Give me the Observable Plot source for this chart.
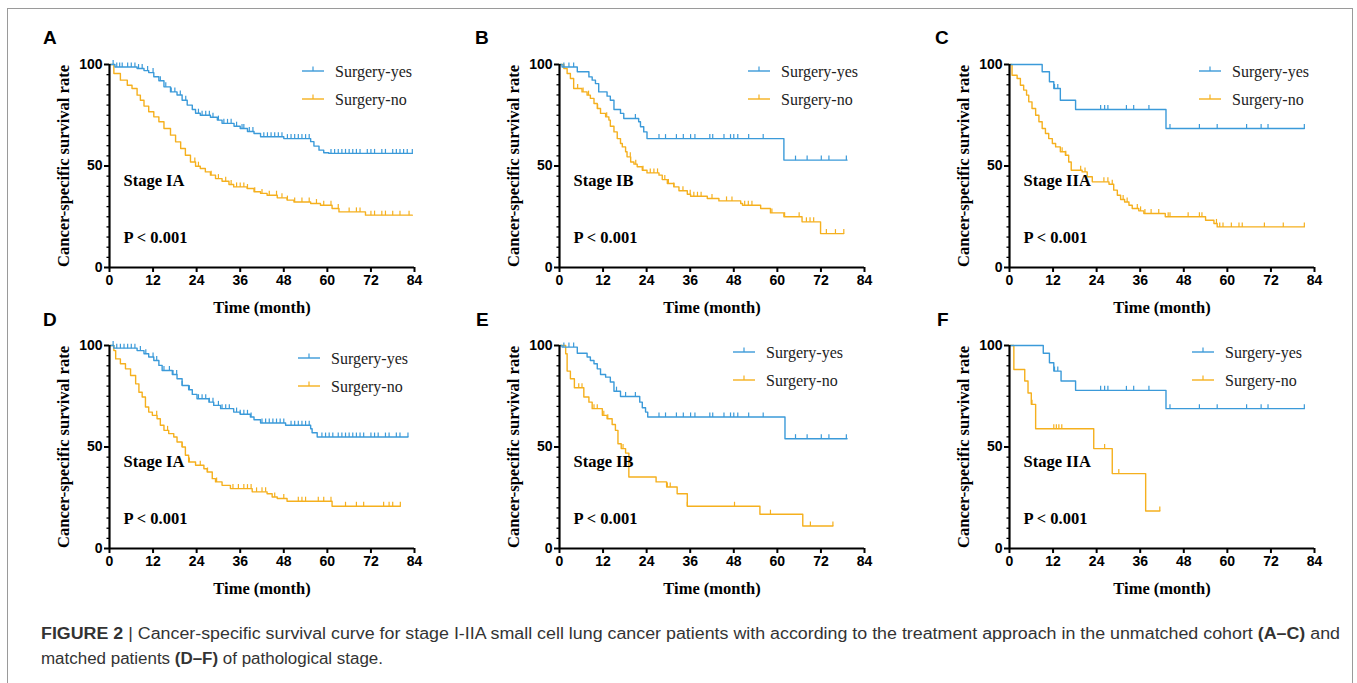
<!DOCTYPE html>
<html>
<head>
<meta charset="utf-8">
<script src="https://cdn.jsdelivr.net/npm/d3@7"></script>
<script src="https://cdn.jsdelivr.net/npm/@observablehq/plot@0.6"></script>
<style>
  html, body { margin: 0; padding: 0; background: #fff; }
  #root { position: relative; width: 1357px; height: 683px; overflow: hidden; }
  .panel { position: absolute; }
  #overlay { position: absolute; left: 0; top: 0; }
</style>
</head>
<body>
<div id="root"></div>
<script>
// ---------- tick labels ----------
const xTicks = [0, 12, 24, 36, 48, 60, 72, 84];
const yMajor = [0, 50, 100];
const yMinor = [5, 10, 15, 20, 25, 30, 35, 40, 45, 55, 60, 65, 70, 75, 80, 85, 90, 95];
const seriesNames = ["Surgery-yes", "Surgery-no"];
const panelLetters = ["A", "B", "C", "D", "E", "F"];
const stageLabels = ["Stage IA", "Stage IB", "Stage IIA", "Stage IA", "Stage IB", "Stage IIA"];
const pLabel = "P < 0.001";

// ---------- survival steps [month, survival %] and censor times ----------
const aYes = [[0,100],[1.5,98.8],[7.6,98],[9.5,97],[10.8,96],[12.2,94],[13.6,92],[15,89],[16.8,86.5],[18.6,85],[20,82.4],[21.4,80],[22.8,77.8],[23.7,76],[25,75],[27.8,74],[29.7,72.6],[31,71],[34.3,69.6],[36,68.5],[38,67],[39.8,66],[41.6,64.4],[48,63.5],[55.4,62],[56.3,59.8],[57.7,57.8],[59,56.5],[60.4,56.2],[83.4,56.2]];
const aYesC = [1,2,2.8,3.5,5,6,7,8,9,10.5,12,14,15.5,17,18,19.5,21,24.5,25.5,26.5,27.5,28.5,30,31.5,32.5,33.5,35,36.5,37,38.5,39.5,42.5,43.5,44.5,45.5,46.5,47.5,49,50,51,52,53,54,55,61,62,63,64,65,66,67,68,69,71,72,73,75,76,78,79,80,81,82,83.4];
const aNo = [[0,100],[1.2,95.6],[3,92.3],[4.9,89.8],[6.2,88.2],[7.6,84.9],[8.5,82.4],[9.5,79.5],[10.8,76.7],[12.2,74.2],[13.6,71.8],[15,68.5],[16.8,65.2],[18.2,61.9],[19.6,58.6],[20.9,55.3],[22.3,52],[23.7,49.9],[25,48.8],[26.4,47.1],[27.8,45.5],[29.2,43.8],[31,42.5],[32.9,40.9],[34.2,39.7],[37.9,38.9],[39.8,37.3],[41.6,36.5],[43.4,35.6],[46.2,34.3],[48.9,33.2],[50.8,32.3],[55.4,31.5],[58.1,30.7],[61.3,29.1],[63.2,27.4],[70.5,25.8],[83.4,25.8]];
const aNoC = [23.5,24.5,28,30,32,33.5,35,36,37,38,40,42,44,46,47.5,49,51,53,55,57,59,61,63,66,68,69,72,73,75,76,78,80,82.5];

const bYes = [[0,100],[0.7,98.8],[4.9,96.4],[8.1,93.9],[9,92.3],[9.9,90.6],[10.8,86.5],[13.1,84.4],[14,82.4],[15,77.8],[16.8,75.9],[17.7,73.4],[21.8,71.8],[22.3,69.3],[23.2,66.8],[24.1,63.5],[61.8,52.9],[79.2,52.9]];
const bYesC = [1.2,2.6,3.9,20.9,27.4,29.2,32.2,34.1,36.1,37.3,41.4,42.2,45.3,47.1,48,49.1,52.1,56.1,65,68.2,72.1,74.2,79];
const bNo = [[0,100],[1.2,98],[2.1,95.6],[3,93.1],[3.9,88.2],[6.2,86.5],[7.6,84.9],[8.5,83.3],[9.5,80.8],[10.4,78.3],[11.3,75.9],[12.7,74.2],[13.6,72.6],[14,69.6],[15,66.8],[15.9,63.5],[16.8,61.1],[17.3,59.4],[18.2,57],[18.6,54.5],[19.6,52],[20.5,50.9],[21.4,49.6],[22.8,47.9],[24.1,46.6],[27.4,45.5],[28.3,43.3],[29.7,41.4],[31.5,39.7],[32.9,37.8],[35.2,36.1],[36.1,35.1],[40.7,34],[43.9,32.8],[49.9,31.5],[50.4,30.7],[55.4,29.1],[58.1,26.9],[61.8,25],[66.8,22.5],[71.9,16.7],[78.3,16.7]];
const bNoC = [5,6.5,8,10.5,13,19.5,21,23,25,26,27,29,30,31.5,34,36,37,38,39,42,46,47.5,51,52,53,58.5,62,66,68,69,70,73.5,76,78.3];

const cYes = [[0,100],[9,96.4],[11,91.5],[12.2,88.2],[14,82.4],[18.2,77.8],[43.1,68.5],[81.2,68.5]];
const cYesC = [12.4,13.3,25.1,26.2,27.1,32.2,34.2,38.4,44.2,52.3,57.2,65.3,69.3,71.2,81.2];
const cNo = [[0,100],[0.7,94.7],[2.1,93.1],[3,89.8],[3.9,87.4],[4.7,84.9],[5.3,81.6],[6.2,78.3],[7.2,75],[8.1,71.8],[9,68.5],[9.9,66],[10.8,63.5],[11.8,61.1],[12.7,59.4],[14,57],[15.4,55.3],[16.3,52],[17,47.9],[20,47.1],[21.4,44.7],[22.8,42.2],[27.4,41],[28.7,38.1],[29.7,35.6],[30.6,33.5],[31.7,32.3],[32.9,30.7],[33.8,29.1],[35.6,27.9],[37,26.6],[42.9,25],[54,23.3],[56.3,21.7],[57.2,20],[81.2,20]];
const cNoC = [14.5,15.5,19.6,20.8,26,27.1,28.3,31.3,32.4,35.2,36.1,37.3,39,41.1,43.7,44.2,49.2,52.3,53,57,57.9,58.8,61.1,63.2,64.1,70.2,75.4,81.2];

const dYes = [[0,100],[1.2,98.7],[7.6,97.5],[9.5,95.9],[10.8,94.3],[12.2,92.6],[13.6,90.2],[14.5,87.7],[17.3,85.7],[18.6,83.6],[20,80.3],[21.8,78.2],[22.8,75.9],[24.1,73.8],[27.4,72.1],[28.7,70.5],[30.6,68.9],[34.2,67.2],[36,66.1],[38.8,64.8],[39.8,63.4],[41.6,61.8],[48.5,60.7],[55.4,59],[55.8,57],[57.2,54.9],[82.2,54.9]];
const dYesC = [1,2,3,4,5,6,7,8.5,10,12,13,15,16.5,17.5,18.5,20,22,24.5,25.5,26.5,27.5,28.5,30,31,32,33,35,36,37,38,39,42,43,44,45,46,47,48,50,51,52,53,54,55,58.5,59.5,60.5,61.5,63,64,65,66,67,68,69,70,72,73,74,76,77,79,80,82.2];
const dNo = [[0,100],[1.2,97.5],[1.7,93.4],[3,91],[4.4,88.5],[5.8,85.2],[7.2,81.1],[8.1,77],[9,74.6],[9.9,69.7],[10.8,67.2],[11.8,65.6],[13.1,63.9],[14,60.7],[15,58.2],[16.3,56.6],[17.7,54.9],[18.6,52.5],[20,50],[20.9,45.9],[21.8,42.6],[23.7,41],[26,39.3],[26.9,37.7],[28.3,34.4],[29.2,32.8],[31,31.1],[33.3,29.5],[39.3,27.9],[43.4,27],[44.8,25.4],[46.2,24.6],[48.9,23.3],[61.3,20.8],[80.1,20.8]];
const dNoC = [13,16,20,22,25,27,29.5,34,35.5,37,38,39,40.5,42,43,45.5,48,52,53,54,57.5,59,61,65,68,70,75.5,77,78,80.1];

const eYes = [[0,100],[0.7,99.2],[4.9,96.2],[7.6,94.3],[8.5,92.6],[9.5,91],[10.4,88.5],[11.3,85.7],[12.7,84.4],[14,82],[15,77.5],[16.8,74.9],[22.1,72.1],[22.8,69.3],[23.7,67.2],[24.3,64.8],[62.1,54.1],[79.2,54.1]];
const eYesC = [1.2,2.6,3.9,15.7,18.2,20.9,27.4,29.2,32.2,34.1,36.1,37.3,41.4,42.2,45.3,47.1,48,49.1,52.1,56.1,65,68.2,72.1,74.2,79];
const eNo = [[0,100],[1.7,95.9],[2.1,87.4],[3,83.6],[4.1,79.2],[6.7,74.6],[8.1,72.1],[9,68.9],[11.8,65.6],[13.1,63.9],[14.5,61.1],[15.4,58.2],[16.1,51.6],[17,49.2],[18.2,47],[19.1,35.2],[26.6,32.8],[29.5,30.3],[32.4,27],[35.2,20.8],[55.2,16.9],[67,11.1],[75.3,11.1]];
const eNoC = [5.3,6.2,9.5,10.4,12.2,13.3,17.5,29.7,30.5,35.2,48.2,58.1,69.1,75.3];

const fYes = [[0,100],[9.3,96.2],[11,91.5],[12.2,87.4],[14.2,82.5],[18.2,77.9],[43.1,68.9],[81.2,68.9]];
const fYesC = [12.4,13.3,25.1,26.2,27.1,32.2,34.2,38.4,44.2,52.3,57.2,65.3,69.3,71.2,81.2];
const fNo = [[0,100],[1.2,88.2],[4.2,82.5],[5.1,76.6],[6,71],[7.2,59],[23.2,49.2],[28.3,36.9],[37.5,18.5],[41.4,18.5]];
const fNoC = [6.2,12.2,12.9,13.6,14.4,26.2,30.1,41.4];

const colors = ["#3b9ad9", "#f5b01e"];

// ---------- layout ----------
const panels = [
  {yes: aYes, yesC: aYesC, no: aNo, noC: aNoC, left: 0,   top: 20,  mt: 44, mb: 53, leg: [302, 71]},
  {yes: bYes, yesC: bYesC, no: bNo, noC: bNoC, left: 450, top: 20,  mt: 44, mb: 53, leg: [748, 71]},
  {yes: cYes, yesC: cYesC, no: cNo, noC: cNoC, left: 900, top: 20,  mt: 44, mb: 53, leg: [1199, 71]},
  {yes: dYes, yesC: dYesC, no: dNo, noC: dNoC, left: 0,   top: 320, mt: 25, mb: 72, leg: [298, 358]},
  {yes: eYes, yesC: eYesC, no: eNo, noC: eNoC, left: 450, top: 320, mt: 25, mb: 72, leg: [733, 352]},
  {yes: fYes, yesC: fYesC, no: fNo, noC: fNoC, left: 900, top: 320, mt: 25, mb: 72, leg: [1192, 352]}
];
const letterPos = [[43, 44], [475, 44], [935, 44], [43, 326], [476, 326], [937, 326]];

const SANS = "'Liberation Sans', Arial, sans-serif";
const SERIF = "'Liberation Serif', 'Times New Roman', serif";

function sAt(steps, t) {
  let v = steps[0][1];
  for (const [tt, s] of steps) if (tt <= t) v = s;
  return v;
}
const tickSym = { draw(ctx, size) { const r = Math.sqrt(size / Math.PI); ctx.moveTo(0, 0); ctx.lineTo(0, -r); } };

const root = document.getElementById("root");

panels.forEach((p, i) => {
  const curves = [[p.yes, p.yesC, colors[0]], [p.no, p.noC, colors[1]]];
  const marks = [];
  curves.slice().reverse().forEach(([steps, cens, col]) => {
    marks.push(Plot.line(steps, {x: d => d[0], y: d => d[1], curve: "step-after", stroke: col, strokeWidth: 1.4}));
    marks.push(Plot.dot(cens, {x: d => d, y: d => sAt(steps, d), symbol: tickSym, r: 4.5, stroke: col, fill: "none", strokeWidth: 1.2}));
  });
  const serifBold = {fontFamily: SERIF, fontWeight: "bold", fontSize: 16.5, fill: "black", lineAnchor: "middle"};
  marks.push(
    Plot.axisY(yMinor, {tickSize: 2.5, text: null, strokeWidth: 1.3, label: null}),
    Plot.axisY(yMajor, {tickSize: 5, tickPadding: 2, strokeWidth: 2, label: null, fontSize: 14, fontWeight: "bold", fontFamily: SANS}),
    Plot.axisX(xTicks, {tickSize: 5, tickPadding: 3, strokeWidth: 2, label: null, fontSize: 14, fontWeight: "bold", fontFamily: SANS}),
    Plot.ruleX([0], {stroke: "black", strokeWidth: 2.2}),
    Plot.ruleY([0], {stroke: "black", strokeWidth: 2.2}),
    Plot.text([stageLabels[i]], {text: d => d, frameAnchor: "top-left", dx: 14, dy: 116, textAnchor: "start", ...serifBold}),
    Plot.text([pLabel], {text: d => d, frameAnchor: "top-left", dx: 14, dy: 173, textAnchor: "start", ...serifBold}),
    Plot.text(["Time (month)"], {text: d => d, frameAnchor: "bottom", dy: 40, textAnchor: "middle", ...serifBold}),
    Plot.text(["Cancer-specific survival rate"], {text: d => d, frameAnchor: "left", dx: -46, rotate: -90, textAnchor: "middle", ...serifBold})
  );
  const chart = Plot.plot({
    width: 450, height: 300,
    marginLeft: 109, marginRight: 36, marginTop: p.mt, marginBottom: p.mb,
    x: {domain: [0, 84]},
    y: {domain: [0, 100]},
    style: {background: "transparent", color: "black", fontFamily: SANS, overflow: "visible"},
    marks
  });
  chart.classList.add("panel");
  chart.style.left = p.left + "px";
  chart.style.top = p.top + "px";
  root.appendChild(chart);
});

// ---------- overlay: frame, letters, legends, caption ----------
const svg = d3.select(root).append("svg").attr("id", "overlay").attr("width", 1357).attr("height", 683);
svg.append("rect").attr("x", 7.5).attr("y", 8.5).attr("width", 1345).attr("height", 720)
  .attr("fill", "none").attr("stroke", "#9a9a9a").attr("stroke-width", 1);

panelLetters.forEach((L, i) => {
  svg.append("text").attr("x", letterPos[i][0]).attr("y", letterPos[i][1])
    .attr("font-family", SANS).attr("font-weight", "bold").attr("font-size", 19).text(L);
});

panels.forEach(p => {
  const [lx, ly] = p.leg;
  seriesNames.forEach((name, k) => {
    const y = ly + k * 28;
    svg.append("line").attr("x1", lx).attr("x2", lx + 22).attr("y1", y).attr("y2", y)
      .attr("stroke", colors[k]).attr("stroke-width", 1.4);
    svg.append("line").attr("x1", lx + 11).attr("x2", lx + 11).attr("y1", y).attr("y2", y - 4.5)
      .attr("stroke", colors[k]).attr("stroke-width", 1.2);
    svg.append("text").attr("x", lx + 33).attr("y", y + 6)
      .attr("font-family", SERIF).attr("font-size", 16).attr("fill", "#222").text(name);
  });
});

const cap1 = svg.append("text").attr("x", 41).attr("y", 639).attr("font-family", SANS).attr("font-size", 16)
  .attr("fill", "#333").attr("textLength", 1299).attr("lengthAdjust", "spacingAndGlyphs");
cap1.append("tspan").attr("font-weight", "bold").text("FIGURE 2 ");
cap1.append("tspan").text("| Cancer-specific survival curve for stage I-IIA small cell lung cancer patients with according to the treatment approach in the unmatched cohort ");
cap1.append("tspan").attr("font-weight", "bold").text("(A–C)");
cap1.append("tspan").text(" and");
const cap2 = svg.append("text").attr("x", 41).attr("y", 664).attr("font-family", SANS).attr("font-size", 16)
  .attr("fill", "#333").attr("textLength", 342).attr("lengthAdjust", "spacingAndGlyphs");
cap2.append("tspan").text("matched patients ");
cap2.append("tspan").attr("font-weight", "bold").text("(D–F)");
cap2.append("tspan").text(" of pathological stage.");
</script>
</body>
</html>
